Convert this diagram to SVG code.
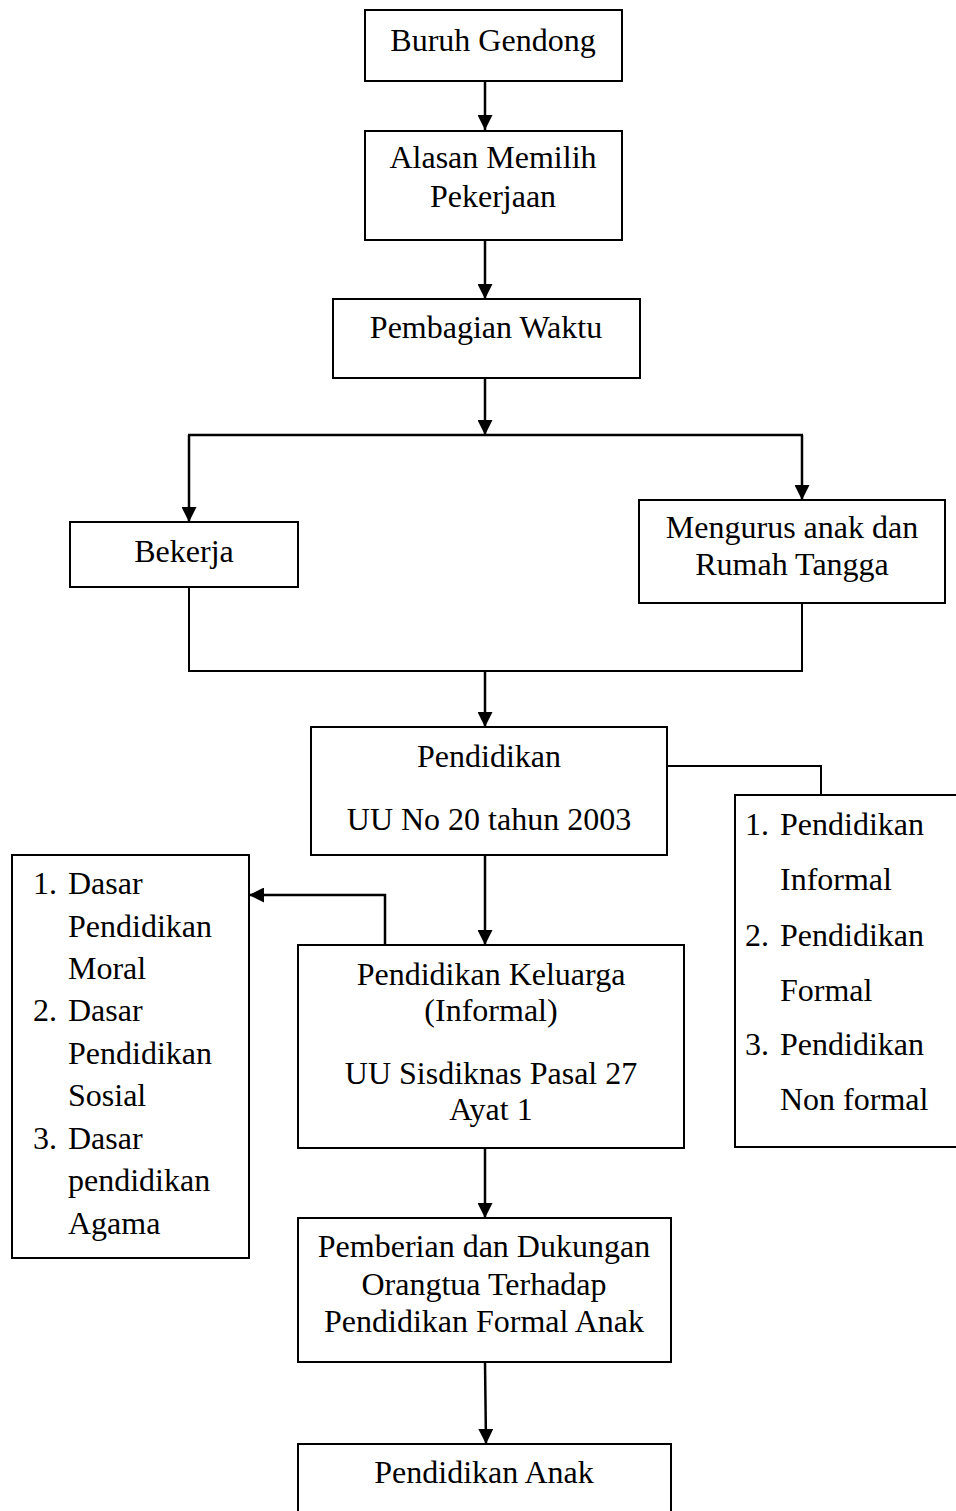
<svg xmlns="http://www.w3.org/2000/svg" width="956" height="1511" viewBox="0 0 956 1511">
<style>
.box{fill:#fff;stroke:#000;stroke-width:2}
.t{font-family:"Liberation Serif","Times New Roman",serif;font-size:32px;fill:#000}
.c{text-anchor:middle}
.ln{fill:none;stroke:#000;stroke-width:2.5}
.ln2{fill:none;stroke:#000;stroke-width:2}
</style>
<defs>
<marker id="ah" markerUnits="userSpaceOnUse" markerWidth="15" markerHeight="15" refX="15" refY="7.5" orient="auto">
<path d="M0,0 L15,7.5 L0,15 z" fill="#000"/>
</marker>
</defs>
<rect width="956" height="1511" fill="#fff"/>
<g id="connectors">
<line class="ln" x1="485" y1="82" x2="485" y2="130" marker-end="url(#ah)"/>
<line class="ln" x1="485" y1="240" x2="485" y2="299" marker-end="url(#ah)"/>
<line class="ln" x1="485" y1="378" x2="485" y2="435" marker-end="url(#ah)"/>
<line class="ln" x1="188" y1="435" x2="803" y2="435"/>
<line class="ln" x1="189" y1="435" x2="189" y2="522" marker-end="url(#ah)"/>
<line class="ln" x1="802" y1="435" x2="802" y2="500" marker-end="url(#ah)"/>
<polyline class="ln2" points="189,587 189,671 802,671 802,603"/>
<line class="ln" x1="485" y1="671" x2="485" y2="727" marker-end="url(#ah)"/>
<polyline class="ln2" points="667,766 821,766 821,795"/>
<line class="ln" x1="485" y1="855" x2="485" y2="945" marker-end="url(#ah)"/>
<polyline class="ln" points="385,945 385,895 249,895" marker-end="url(#ah)"/>
<line class="ln" x1="485" y1="1148" x2="485" y2="1218" marker-end="url(#ah)"/>
<line class="ln" x1="485" y1="1362" x2="486" y2="1444" marker-end="url(#ah)"/>
</g>
<g id="buruh">
<rect class="box" x="365" y="10" width="257" height="71"/>
<text class="t c" x="493" y="51">Buruh Gendong</text>
</g>
<g id="alasan">
<rect class="box" x="365" y="131" width="257" height="109"/>
<text class="t c" x="493" y="168">Alasan Memilih</text>
<text class="t c" x="493" y="207">Pekerjaan</text>
</g>
<g id="pembagian">
<rect class="box" x="333" y="299" width="307" height="79"/>
<text class="t c" x="486" y="338">Pembagian Waktu</text>
</g>
<g id="bekerja">
<rect class="box" x="70" y="522" width="228" height="65"/>
<text class="t c" x="184" y="562">Bekerja</text>
</g>
<g id="mengurus">
<rect class="box" x="639" y="500" width="306" height="103"/>
<text class="t c" x="792" y="538">Mengurus anak dan</text>
<text class="t c" x="792" y="575">Rumah Tangga</text>
</g>
<g id="pendidikan">
<rect class="box" x="311" y="727" width="356" height="128"/>
<text class="t c" x="489" y="767">Pendidikan</text>
<text class="t c" x="489" y="830">UU No 20 tahun 2003</text>
</g>
<g id="jenis">
<rect class="box" x="735" y="795" width="225" height="352"/>
<text class="t" x="745" y="835">1.</text><text class="t" x="780" y="835">Pendidikan</text>
<text class="t" x="780" y="890">Informal</text>
<text class="t" x="745" y="946">2.</text><text class="t" x="780" y="946">Pendidikan</text>
<text class="t" x="780" y="1001">Formal</text>
<text class="t" x="745" y="1055">3.</text><text class="t" x="780" y="1055">Pendidikan</text>
<text class="t" x="780" y="1110">Non formal</text>
</g>
<g id="dasar">
<rect class="box" x="12" y="855" width="237" height="403"/>
<text class="t" x="33" y="894">1.</text><text class="t" x="68" y="894">Dasar</text>
<text class="t" x="68" y="937">Pendidikan</text>
<text class="t" x="68" y="979">Moral</text>
<text class="t" x="33" y="1021">2.</text><text class="t" x="68" y="1021">Dasar</text>
<text class="t" x="68" y="1064">Pendidikan</text>
<text class="t" x="68" y="1106">Sosial</text>
<text class="t" x="33" y="1149">3.</text><text class="t" x="68" y="1149">Dasar</text>
<text class="t" x="68" y="1191">pendidikan</text>
<text class="t" x="68" y="1234">Agama</text>
</g>
<g id="keluarga">
<rect class="box" x="298" y="945" width="386" height="203"/>
<text class="t c" x="491" y="985">Pendidikan Keluarga</text>
<text class="t c" x="491" y="1021">(Informal)</text>
<text class="t c" x="491" y="1084">UU Sisdiknas Pasal 27</text>
<text class="t c" x="491" y="1120">Ayat 1</text>
</g>
<g id="pemberian">
<rect class="box" x="298" y="1218" width="373" height="144"/>
<text class="t c" x="484" y="1257">Pemberian dan Dukungan</text>
<text class="t c" x="484" y="1295">Orangtua Terhadap</text>
<text class="t c" x="484" y="1332">Pendidikan Formal Anak</text>
</g>
<g id="anak">
<rect class="box" x="298" y="1444" width="373" height="80"/>
<text class="t c" x="484" y="1483">Pendidikan Anak</text>
</g>
</svg>
